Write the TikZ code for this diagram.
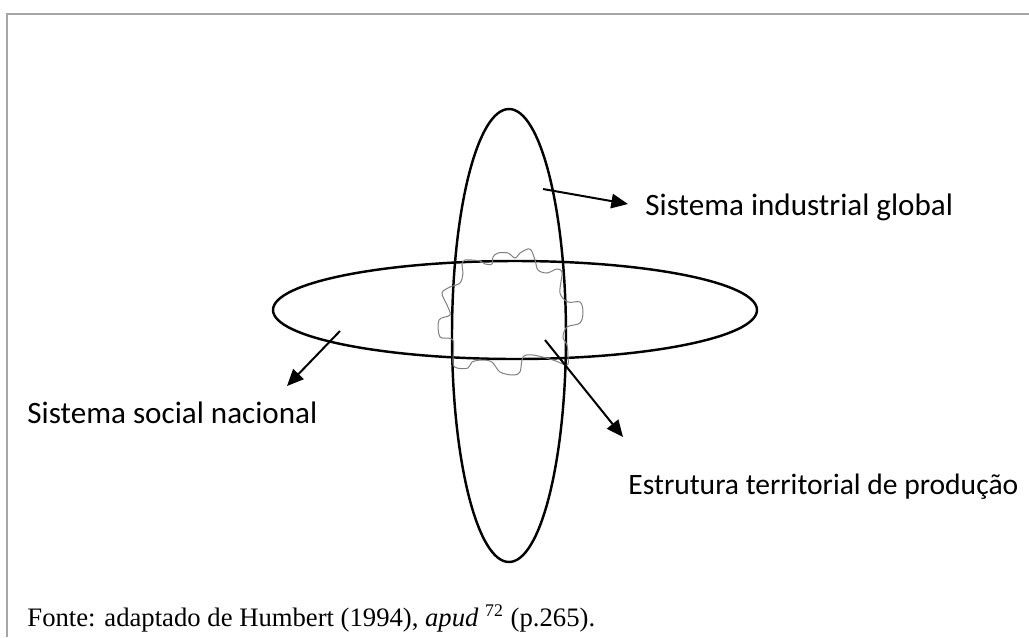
\documentclass[tikz,border=0pt]{standalone}
\usepackage{fontspec}
\setmainfont{Liberation Serif}
\newfontfamily\labelfont{Carlito}
\usetikzlibrary{arrows.meta}
\definecolor{cFrame}{HTML}{A6A6A6}
\definecolor{cWave}{HTML}{7F7F7F}
\tikzset{
  ring/.style={draw=black,line width=1.1pt},
  wave/.style={draw=cWave,line width=0.45pt},
  frame-line/.style={draw=cFrame,line width=0.9pt},
  node-label/.style={font=\labelfont\fontsize{14}{17}\selectfont,
    inner sep=0pt,anchor=base west},
  node-label-small/.style={node-label,
    font=\labelfont\fontsize{13.3}{16}\selectfont},
  node-note/.style={font=\fontsize{12}{14}\selectfont,
    inner sep=0pt,anchor=base west},
  arrow/.style={-{Triangle[length=7.5pt,width=6.5pt]},line width=0.9pt},
}
\begin{document}
\begin{tikzpicture}[x=0.45pt,y=-0.45pt]
  \useasboundingbox (0,0) rectangle (1029,637);
  % moldura
  \draw[frame-line] (1029,14) -- (7,14) -- (7,637);
  % os dois sistemas
  \draw[ring] (509,335.5) ellipse [x radius=57,y radius=226.5];
  \draw[ring] (515,310) ellipse [x radius=242,y radius=49];
  % estrutura territorial (contorno irregular)
  \draw[wave] plot[smooth cycle,tension=0.55] coordinates {
    (465,260) (480,261) (485,264) (492,264) (493,257) (498,253)
    (508,253) (515,258) (520,253) (530,249) (535,260) (538,270)
    (547,273) (557,269) (562,273) (560,293) (568,302) (580,302)
    (583,312) (580,323) (567,327) (563,337) (567,345) (568,357)
    (567,365) (553,360) (533,355) (523,357) (520,372) (513,375)
    (500,372) (492,362) (482,360) (472,362) (468,368) (457,368)
    (453,363) (453,340) (440,337) (439,320) (450,315) (447,305)
    (442,293) (450,287) (460,283) (463,273) (462,265)};
  % rótulos
  \node[node-label] (ind) at (645,215) {Sistema industrial global};
  \node[node-label] (soc) at (27,423) {Sistema social nacional};
  \node[node-label-small] (ter) at (628,494) {Estrutura territorial de produção};
  \node[node-note] (fonte) at (27,626)
    {Fonte: adaptado de Humbert (1994), \textit{apud} \textsuperscript{72} (p.265).};
  % setas
  \coordinate (ind-from) at (543,189);
  \coordinate (ind-to) at (628,204);
  \coordinate (soc-from) at (340,331);
  \coordinate (soc-to) at (287,386);
  \coordinate (ter-from) at (545,340);
  \coordinate (ter-to) at (623,437);
  \draw[arrow] (ind-from) -- (ind-to);
  \draw[arrow] (soc-from) -- (soc-to);
  \draw[arrow] (ter-from) -- (ter-to);
\end{tikzpicture}
\end{document}
